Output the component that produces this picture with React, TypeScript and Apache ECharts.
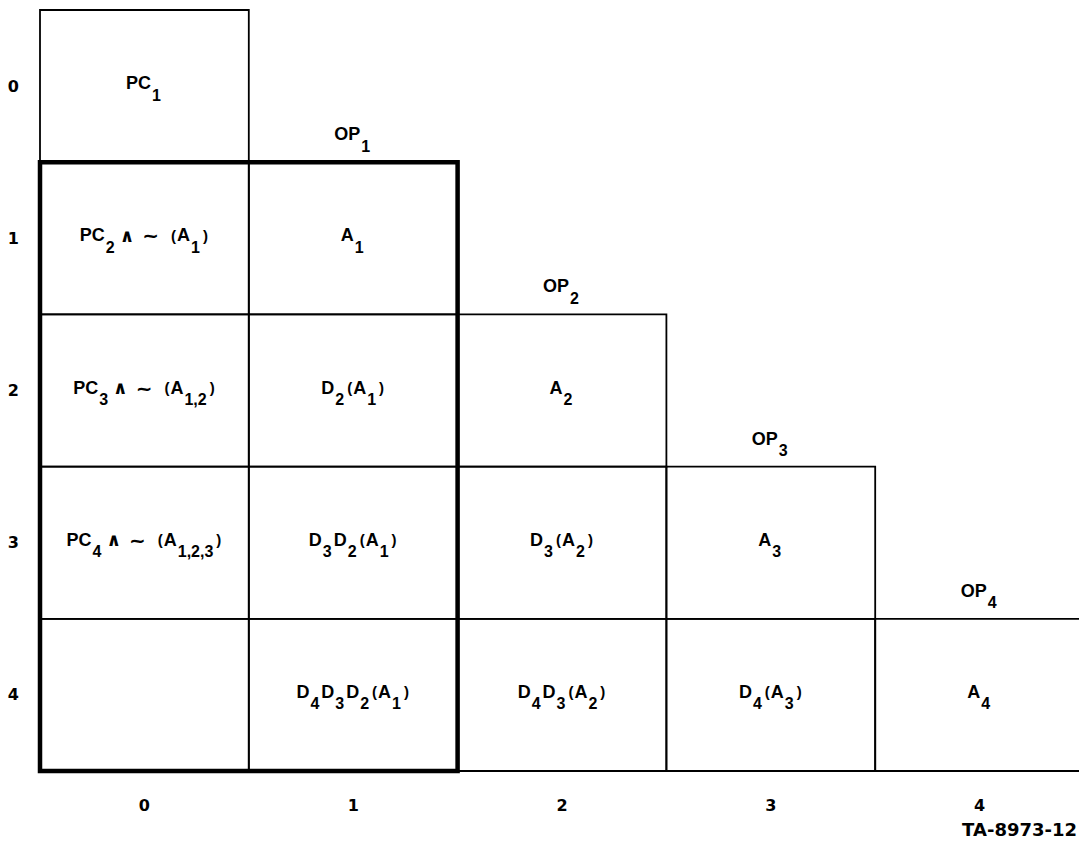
import React, { useEffect, useRef } from "react";
import * as echarts from "echarts";

// ---- data ----
const colLabels = ["0", "1", "2", "3", "4"];
const rowLabels = ["0", "1", "2", "3", "4"];

// cell contents, one array per row (index = column); rich-text tokens
const row0 = ["{m|PC}{s|1}"];
const row1 = ["{m|PC}{s|2}{and|∧}{t|~}{p|(}{m|A}{s|1}{p|)}", "{m|A}{s|1}"];
const row2 = [
  "{m|PC}{s|3}{and|∧}{t|~}{p|(}{m|A}{s|1,2}{p|)}",
  "{m|D}{s|2}{p|(}{m|A}{s|1}{p|)}",
  "{m|A}{s|2}",
];
const row3 = [
  "{m|PC}{s|4}{and|∧}{t|~}{p|(}{m|A}{s|1,2,3}{p|)}",
  "{m|D}{s|3}{m|D}{s|2}{p|(}{m|A}{s|1}{p|)}",
  "{m|D}{s|3}{p|(}{m|A}{s|2}{p|)}",
  "{m|A}{s|3}",
];
const row4 = [
  "",
  "{m|D}{s|4}{m|D}{s|3}{m|D}{s|2}{p|(}{m|A}{s|1}{p|)}",
  "{m|D}{s|4}{m|D}{s|3}{p|(}{m|A}{s|2}{p|)}",
  "{m|D}{s|4}{p|(}{m|A}{s|3}{p|)}",
  "{m|A}{s|4}",
];
const rowsContent = [row0, row1, row2, row3, row4];

// operator labels above the diagonal cells (index = column = row)
const opLabels = ["", "{m|OP}{s|1}", "{m|OP}{s|2}", "{m|OP}{s|3}", "{m|OP}{s|4}"];

// heavy outlined block: [colStart, colEnd, rowStart, rowEnd]
const boldBlock = [0, 1, 1, 4];

const footnote = "TA-8973-12";

// ---- derived ----
const cellData: number[][] = [];
const cellText: string[] = [];
rowsContent.forEach((r, ri) =>
  r.forEach((txt, ci) => {
    cellData.push([ci, ri]);
    cellText.push(txt);
  })
);
const opData: number[][] = [];
const opText: string[] = [];
opLabels.forEach((t, k) => {
  if (t) {
    opData.push([k, k]);
    opText.push(t);
  }
});

const FONT = "Liberation Sans";
const rich = {
  m: { fontSize: 18, lineHeight: 40, fontWeight: "bold", fontFamily: FONT, color: "#000" },
  p: { fontSize: 15, fontWeight: "bold", fontFamily: FONT, color: "#000", padding: [0, 1, 0, 1] },
  s: {
    fontSize: 16,
    fontWeight: "bold",
    fontFamily: FONT,
    color: "#000",
    verticalAlign: "bottom",
    padding: [0, 2, 0, 1],
  },
  and: {
    fontSize: 18,
    fontWeight: "bold",
    fontFamily: "DejaVu Sans",
    color: "#000",
    padding: [0, 8, 0, 3],
  },
  t: {
    fontSize: 20,
    fontWeight: "bold",
    fontFamily: "DejaVu Sans",
    color: "#000",
    padding: [0, 11, 0, 0],
  },
};

export default function App() {
  const ref = useRef<HTMLDivElement>(null);
  useEffect(() => {
    document.body.style.margin = "0";
    const chart = echarts.init(ref.current!, undefined, { renderer: "svg" });
    const axisLabelBase = {
      fontSize: 16,
      fontWeight: "bold" as const,
      fontFamily: "DejaVu Sans",
      color: "#000",
    };
    chart.setOption({
      animation: false,
      backgroundColor: "#fff",
      grid: { left: 40, top: 10, width: 1044, height: 761, outerBoundsMode: "none", containLabel: false },
      xAxis: {
        type: "category",
        data: colLabels,
        axisLine: { show: false },
        axisTick: { show: false },
        splitLine: { show: false },
        axisLabel: { ...axisLabelBase, margin: 26 },
      },
      yAxis: {
        type: "category",
        data: rowLabels,
        inverse: true,
        axisLine: { show: false },
        axisTick: { show: false },
        splitLine: { show: false },
        axisLabel: { ...axisLabelBase, margin: 21 },
      },
      graphic: [
        {
          type: "text",
          right: 2,
          top: 820,
          style: { text: footnote, font: "bold 18px 'DejaVu Sans'", fill: "#000" },
        },
      ],
      series: [
        {
          type: "custom",
          name: "cells",
          data: cellData,
          z: 2,
          renderItem: (params: any, api: any) => {
            const c = api.coord([api.value(0), api.value(1)]);
            const s = api.size([1, 1]);
            const txt = cellText[params.dataIndex];
            return {
              type: "group",
              children: [
                {
                  type: "rect",
                  shape: { x: c[0] - s[0] / 2, y: c[1] - s[1] / 2, width: s[0], height: s[1] },
                  style: { fill: "none", stroke: "#000", lineWidth: 1.8 },
                },
                {
                  type: "text",
                  x: c[0],
                  y: c[1] - 3,
                  style: { text: txt, align: "center", verticalAlign: "middle", rich },
                },
              ],
            };
          },
        },
        {
          type: "custom",
          name: "ops",
          data: opData,
          z: 3,
          renderItem: (params: any, api: any) => {
            const c = api.coord([api.value(0), api.value(1)]);
            const s = api.size([1, 1]);
            return {
              type: "text",
              x: c[0],
              y: c[1] - s[1] / 2 - 28,
              style: { text: opText[params.dataIndex], align: "center", verticalAlign: "middle", rich },
            };
          },
        },
        {
          type: "custom",
          name: "block",
          data: [boldBlock],
          z: 4,
          renderItem: (params: any, api: any) => {
            const a = api.coord([api.value(0), api.value(2)]);
            const b = api.coord([api.value(1), api.value(3)]);
            const s = api.size([1, 1]);
            const x0 = Math.min(a[0], b[0]) - s[0] / 2;
            const x1 = Math.max(a[0], b[0]) + s[0] / 2;
            const y0 = Math.min(a[1], b[1]) - s[1] / 2;
            const y1 = Math.max(a[1], b[1]) + s[1] / 2;
            return {
              type: "rect",
              shape: { x: x0, y: y0, width: x1 - x0, height: y1 - y0 },
              style: { fill: "none", stroke: "#000", lineWidth: 4.5 },
            };
          },
        },
      ],
    });
    return () => chart.dispose();
  }, []);
  return <div ref={ref} style={{ width: 1079, height: 841 }} />;
}
